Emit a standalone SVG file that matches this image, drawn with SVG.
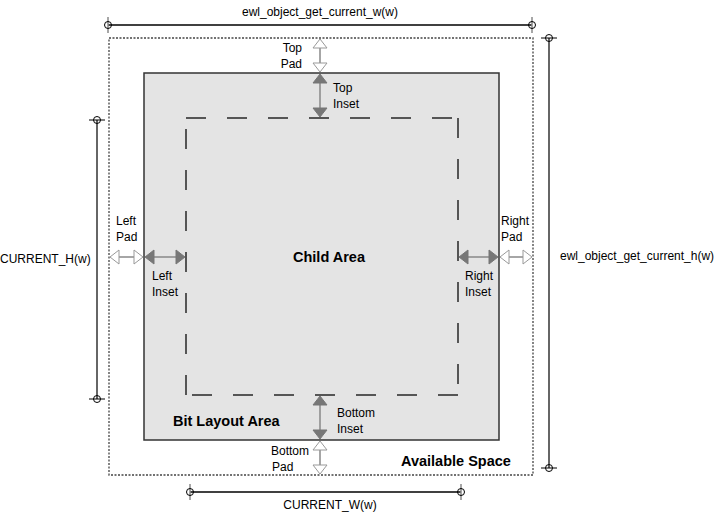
<svg xmlns="http://www.w3.org/2000/svg" width="719" height="516" viewBox="0 0 719 516">
<style>
text{font-family:"Liberation Sans",Arial,sans-serif;font-size:12px;fill:#000}
.b{font-weight:bold;font-size:14.5px}
.dim{stroke:#000;stroke-width:1.5;fill:none}
.dimg{stroke:#666;stroke-width:2;fill:none}
.end{stroke:#000;stroke-width:1;fill:none}
.tick{stroke:#888;stroke-width:1.5}
.al{stroke:#888;stroke-width:1.5}
.hol{fill:#fff;stroke:#999;stroke-width:1}
.fil{fill:#777;stroke:#777;stroke-width:1}
</style>
<rect width="719" height="516" fill="#fff"/>
<g id="available-space">
<rect x="109" y="38" width="424" height="437" fill="#fff" stroke="#444" stroke-width="1.3" stroke-dasharray="2 1.5"/>
<text class="b" x="401" y="466">Available Space</text>
</g>
<g id="bit-layout-area">
<rect x="144" y="73" width="355" height="367" fill="#e4e4e4" stroke="#333" stroke-width="1.5"/>
<text class="b" x="173" y="426">Bit Layout Area</text>
</g>
<g id="child-area">
<path d="M186 118H458M458 118V395M458 395H186M186 395V118" fill="none" stroke="#555" stroke-width="2" stroke-dasharray="20 21"/>
<text class="b" x="329" y="262" text-anchor="middle">Child Area</text>
</g>
<g id="connectors">
<line class="dim" x1="108" y1="25" x2="532" y2="25"/>
<line class="tick" x1="108" y1="17" x2="108" y2="33"/>
<line class="tick" x1="532" y1="17" x2="532" y2="33"/>
<circle class="end" cx="108" cy="25" r="3.5"/>
<circle class="end" cx="532" cy="25" r="3.5"/>
<line class="dim" x1="190" y1="492" x2="461" y2="492"/>
<line class="tick" x1="190" y1="484" x2="190" y2="500"/>
<line class="tick" x1="461" y1="484" x2="461" y2="500"/>
<circle class="end" cx="190" cy="492" r="3.5"/>
<circle class="end" cx="461" cy="492" r="3.5"/>
<line class="dimg" x1="549" y1="38" x2="549" y2="468"/>
<line class="end" x1="541" y1="38" x2="557" y2="38"/>
<line class="end" x1="541" y1="468" x2="557" y2="468"/>
<circle class="end" cx="549" cy="38" r="3.5" fill="#fff"/>
<circle class="end" cx="549" cy="468" r="3.5" fill="#fff"/>
<line class="dimg" x1="97" y1="120" x2="97" y2="399"/>
<line class="end" x1="89" y1="120" x2="105" y2="120"/>
<line class="end" x1="89" y1="399" x2="105" y2="399"/>
<circle class="end" cx="97" cy="120" r="3.5" fill="#fff"/>
<circle class="end" cx="97" cy="399" r="3.5" fill="#fff"/>
<line class="al" x1="320" y1="46" x2="320" y2="65"/>
<polygon class="hol" points="320,39 313,48 327,48"/>
<polygon class="hol" points="320,72 313,63 327,63"/>
<line class="al" x1="320" y1="82" x2="320" y2="109"/>
<polygon class="fil" points="320,74 313,83 327,83"/>
<polygon class="fil" points="320,117 313,108 327,108"/>
<line class="al" x1="320" y1="404" x2="320" y2="431"/>
<polygon class="fil" points="320,396 313,405 327,405"/>
<polygon class="fil" points="320,439 313,430 327,430"/>
<line class="al" x1="320" y1="448" x2="320" y2="467"/>
<polygon class="hol" points="320,441 313,450 327,450"/>
<polygon class="hol" points="320,474 313,465 327,465"/>
<line class="al" x1="117" y1="257" x2="136" y2="257"/>
<polygon class="hol" points="110,257 119,250 119,264"/>
<polygon class="hol" points="143,257 134,250 134,264"/>
<line class="al" x1="153" y1="257" x2="178" y2="257"/>
<polygon class="fil" points="145,257 154,250 154,264"/>
<polygon class="fil" points="185,257 176,250 176,264"/>
<line class="al" x1="466" y1="257" x2="491" y2="257"/>
<polygon class="fil" points="459,257 468,250 468,264"/>
<polygon class="fil" points="498,257 489,250 489,264"/>
<line class="al" x1="507" y1="257" x2="525" y2="257"/>
<polygon class="hol" points="500,257 509,250 509,264"/>
<polygon class="hol" points="532,257 523,250 523,264"/>
</g>
<g id="labels">
<text x="320" y="16" text-anchor="middle">ewl_object_get_current_w(w)</text>
<text x="330" y="509" text-anchor="middle">CURRENT_W(w)</text>
<text x="0" y="263">CURRENT_H(w)</text>
<text x="560" y="260">ewl_object_get_current_h(w)</text>
<text x="302" y="52" text-anchor="end">Top</text>
<text x="302" y="68" text-anchor="end">Pad</text>
<text x="333" y="92">Top</text>
<text x="333" y="108">Inset</text>
<text x="337" y="417">Bottom</text>
<text x="337" y="433">Inset</text>
<text x="309" y="455" text-anchor="end">Bottom</text>
<text x="272" y="471">Pad</text>
<text x="116" y="225">Left</text>
<text x="116" y="241">Pad</text>
<text x="152" y="280">Left</text>
<text x="152" y="296">Inset</text>
<text x="501" y="225">Right</text>
<text x="501" y="241">Pad</text>
<text x="465" y="280">Right</text>
<text x="465" y="296">Inset</text>
</g>
</svg>
